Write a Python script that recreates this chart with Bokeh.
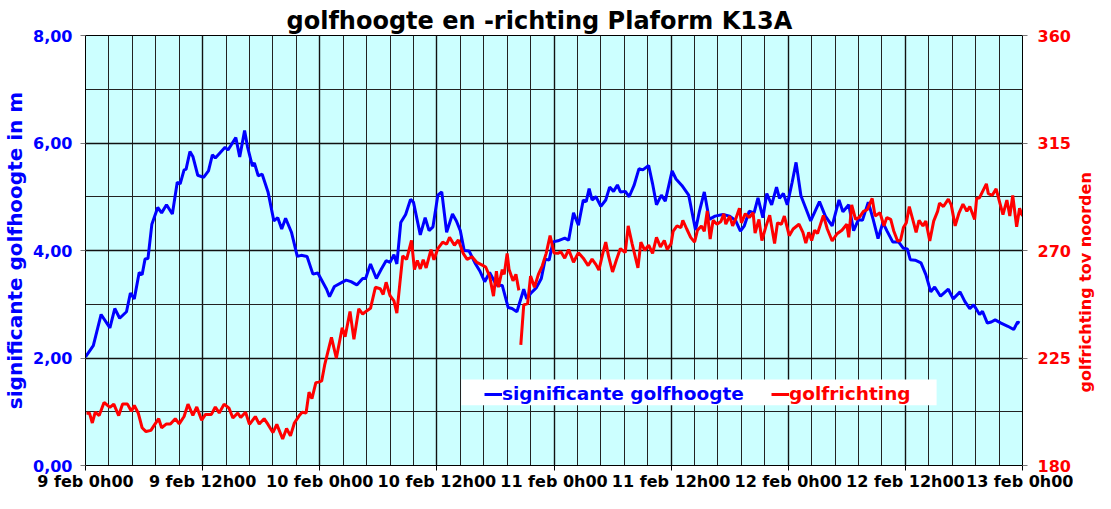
import math
from bokeh.plotting import figure
from bokeh.layouts import row
from bokeh.models import (Range1d, LinearAxis, FixedTicker, Legend, LegendItem,
                          BoxAnnotation, Label)
from bokeh.embed import file_html
from bokeh.resources import INLINE

# ---------------- data (hours since 9 feb 0h00) ----------------
blue_t = [0.0, 0.8, 1.6, 2.5, 3.0, 3.5, 4.2, 4.6, 5.0, 5.5, 5.8, 6.1, 6.4, 6.8, 7.4, 7.8,
          8.3, 8.9, 9.4, 9.7, 10.1, 10.3, 10.7, 11.0, 11.5, 12.1, 12.6, 13.0, 13.3, 13.7,
          14.3, 14.6, 15.4, 15.8, 16.3, 16.6, 17.1, 17.3, 17.7, 18.1, 18.7, 19.3, 19.7,
          20.1, 20.5, 21.1, 21.7, 22.1, 22.7, 23.3, 23.8, 24.7, 25.0, 25.5, 26.7, 27.2,
          27.8, 28.4, 28.7, 29.2, 29.8, 30.3, 30.8, 31.2, 31.6, 31.9, 32.3, 32.8, 33.3,
          33.6, 34.3, 34.8, 35.2, 35.6, 36.1, 36.5, 37.0, 37.6, 38.0, 38.4, 38.8, 39.3,
          39.9, 40.4, 40.9, 41.4, 42.1, 42.7, 43.3, 43.7, 44.2, 44.9, 45.2, 45.6, 46.2,
          46.7, 47.1, 47.5, 47.9, 48.4, 49.1, 49.5, 50.0, 50.5, 51.0, 51.3, 51.6, 51.9,
          52.3, 52.8, 53.3, 53.7, 54.1, 54.5, 54.8, 55.3, 55.7, 56.2, 56.7, 57.1, 57.7,
          58.1, 58.5, 59.0, 59.4, 60.1, 60.5, 61.1, 61.8, 62.5, 62.9, 63.4, 63.9, 64.5,
          65.3, 66.0, 66.6, 67.1, 67.5, 68.0, 68.5, 68.9, 69.4, 69.8, 70.3, 70.8, 71.1,
          71.5, 71.9, 72.4, 72.8, 73.3, 74.3, 75.2, 75.8, 76.5, 77.2, 77.6, 78.2, 78.7,
          79.2, 79.6, 80.2, 80.7, 81.2, 81.7, 82.1, 82.7, 83.3, 83.8, 84.2, 84.5, 85.0,
          85.6, 86.1, 86.6, 87.0, 87.6, 88.4, 88.9, 89.6, 90.1, 90.6, 91.0, 91.6, 91.9,
          92.4, 92.8, 93.2, 93.8, 94.5, 95.1, 95.5, 95.7]
blue_h = [2.02, 2.23, 2.81, 2.56, 2.92, 2.74, 2.86, 3.21, 3.10, 3.59, 3.55, 3.84, 3.85, 4.49,
          4.80, 4.70, 4.85, 4.68, 5.27, 5.24, 5.50, 5.51, 5.84, 5.75, 5.40, 5.36, 5.48, 5.78,
          5.72, 5.80, 5.92, 5.87, 6.10, 5.74, 6.23, 5.93, 5.57, 5.63, 5.39, 5.42, 5.09, 4.55,
          4.61, 4.40, 4.60, 4.34, 3.89, 3.91, 3.89, 3.56, 3.58, 3.28, 3.14, 3.33, 3.45, 3.42,
          3.36, 3.48, 3.48, 3.75, 3.48, 3.65, 3.81, 3.78, 3.92, 3.75, 4.52, 4.67, 4.95, 4.90,
          4.29, 4.61, 4.37, 4.44, 5.03, 5.09, 4.34, 4.68, 4.55, 4.37, 4.00, 3.99, 3.77, 3.62,
          3.42, 3.59, 3.36, 3.35, 2.94, 2.92, 2.86, 3.28, 3.10, 3.20, 3.31, 3.48, 3.84, 3.82,
          4.16, 4.18, 4.23, 4.19, 4.70, 4.47, 4.94, 4.91, 5.15, 4.94, 5.00, 4.82, 4.94, 5.18,
          5.10, 5.22, 5.09, 5.10, 5.00, 5.21, 5.52, 5.50, 5.58, 5.24, 4.85, 5.03, 4.92, 5.48,
          5.33, 5.21, 5.03, 4.38, 4.73, 5.09, 4.58, 4.64, 4.67, 4.64, 4.56, 4.36, 4.46, 4.73,
          4.70, 4.98, 4.61, 5.06, 4.85, 5.18, 4.97, 5.06, 4.85, 5.27, 5.64, 5.02, 4.55, 4.91,
          4.64, 4.46, 4.94, 4.72, 4.85, 4.37, 4.58, 4.56, 4.90, 4.58, 4.22, 4.52, 4.37, 4.16,
          4.16, 4.04, 4.03, 3.83, 3.82, 3.77, 3.55, 3.23, 3.32, 3.15, 3.28, 3.10, 3.23, 3.05,
          2.92, 2.99, 2.81, 2.87, 2.65, 2.67, 2.71, 2.65, 2.59, 2.53, 2.67, 2.65]

NAN = float("nan")
red_t = [0.1, 0.4, 0.7, 1.0, 1.4, 1.9, 2.5, 2.9, 3.4, 3.8, 4.3, 4.7, 5.0, 5.4, 5.8, 6.2, 6.7,
         7.1, 7.5, 7.8, 8.3, 8.7, 9.2, 9.6, 10.1, 10.5, 11.0, 11.4, 11.9, 12.3, 12.9, 13.3,
         13.7, 14.2, 14.7, 15.1, 15.6, 15.9, 16.4, 16.8, 17.4, 17.8, 18.3, 18.7, 19.2, 19.6,
         20.2, 20.6, 21.0, 21.4, 21.9, 22.2, 22.6, 22.9, 23.2, 23.6, 23.9, 24.2, 24.5, 24.8,
         25.2, 25.7, 26.3, 26.6, 27.1, 27.5, 28.0, 28.4, 28.8, 29.2, 29.7, 30.2, 30.5, 30.8,
         31.2, 31.6, 31.9, 32.2, 32.5, 32.9, 33.4, 33.7, 34.0, 34.3, 34.6, 34.9, 35.4, 35.7,
         36.1, 36.6, 37.0, 37.3, 37.8, 38.2, 38.7, 39.1, 39.6, 40.1, 40.6, 41.0, 41.4, 41.8,
         42.1, 42.3, 42.7, 42.9, 43.2, 43.4, 43.8, 44.1, 44.4, 44.5, 44.6, 44.9, 45.3, 45.6,
         46.0, 46.4, 46.8, 47.2, 47.6, 48.0, 48.4, 48.7, 49.1, 49.5, 50.0, 50.5, 51.0, 51.5,
         51.9, 52.3, 52.6, 53.0, 53.3, 53.6, 54.0, 54.4, 54.8, 55.3, 55.6, 56.0, 56.6, 56.9,
         57.3, 57.7, 58.1, 58.5, 58.9, 59.3, 59.6, 60.0, 60.2, 60.6, 61.0, 61.2, 61.6, 62.0,
         62.4, 62.7, 63.1, 63.4, 63.7, 64.0, 64.3, 64.7, 65.1, 65.4, 65.6, 66.0, 66.3, 66.6,
         67.0, 67.2, 67.6, 68.0, 68.4, 68.6, 69.0, 69.3, 69.7, 70.1, 70.6, 70.9, 71.3, 71.6,
         72.1, 72.5, 73.1, 73.5, 73.8, 74.1, 74.4, 74.7, 75.0, 75.6, 76.0, 76.5, 77.0, 77.5,
         78.0, 78.2, 78.5, 78.9, 79.3, 79.7, 80.1, 80.6, 80.9, 81.4, 81.8, 82.1, 82.5, 82.8,
         83.2, 83.5, 83.8, 84.1, 84.4, 84.8, 85.1, 85.4, 85.8, 86.1, 86.5, 86.9, 87.3, 87.5,
         87.9, 88.4, 88.7, 89.1, 89.5, 89.9, 90.3, 90.6, 91.1, 91.3, 91.6, 92.3, 92.5, 92.9,
         93.3, 93.6, 94.0, 94.4, 94.7, 95.0, 95.4, 95.7, 96.0]
red_dir = [201.9, 202.0, 197.8, 202.3, 200.9, 206.4, 204.3, 205.7, 200.9, 205.7, 205.7, 202.7,
           205.1, 202.0, 195.8, 194.2, 194.7, 197.2, 199.6, 195.8, 197.4, 197.4, 199.6, 197.4,
           200.5, 205.7, 201.0, 204.5, 199.0, 201.4, 201.4, 204.5, 202.0, 205.7, 204.0, 199.9,
           202.0, 200.1, 202.3, 197.2, 200.5, 197.4, 199.6, 197.2, 193.8, 197.2, 191.1, 195.5,
           192.4, 197.8, 200.9, 202.3, 202.0, 210.7, 208.0, 214.7, 214.9, 215.4, 222.0, 227.0,
           233.6, 224.9, 237.7, 233.9, 244.5, 232.8, 245.6, 243.4, 244.7, 245.8, 254.6, 254.0,
           251.6, 256.7, 251.1, 248.9, 243.8, 255.9, 267.7, 266.3, 274.2, 262.0, 265.8, 262.3,
           266.1, 262.7, 270.4, 266.1, 270.8, 273.5, 272.6, 275.5, 272.2, 274.4, 268.8, 266.3,
           267.4, 265.0, 264.0, 263.1, 259.3, 250.9, 261.3, 254.6, 262.0, 260.0, 268.8, 262.0,
           257.3, 260.0, 253.3, NAN, 230.5, 247.2, 247.8, 259.3, 254.6, 260.0, 263.6, 268.8,
           276.2, 269.0, 268.8, 269.5, 266.8, 270.4, 265.1, 269.1, 266.8, 263.7, 266.4, 264.1,
           261.8, 268.8, 273.5, 267.4, 261.0, 266.1, 270.8, 269.1, 280.3, 272.9, 262.7, 273.5,
           270.1, 272.2, 268.8, 275.5, 271.5, 274.2, 270.4, 272.9, 278.0, 280.3, 279.6, 282.6,
           279.0, 275.5, 273.5, 278.5, 280.3, 278.0, 286.6, 274.8, 282.6, 281.0, 282.1, 285.4,
           281.0, 284.4, 280.3, 283.0, 287.7, 281.6, 285.4, 283.8, 285.8, 277.3, 283.0, 274.2,
           279.9, 284.8, 272.9, 281.6, 281.0, 284.4, 276.2, 279.0, 281.0, 277.6, 273.1, 277.6,
           274.2, 278.5, 277.1, 284.7, 279.0, 274.0, 277.0, 278.5, 281.0, 275.5, 289.1, 283.0,
           284.0, 286.4, 287.1, 291.8, 284.4, 285.8, 280.3, 283.8, 283.0, 278.3, 274.0, 274.2,
           279.6, 281.6, 288.4, 282.3, 277.6, 282.6, 280.3, 282.3, 274.0, 282.3, 286.4, 289.8,
           288.4, 291.5, 289.1, 280.3, 285.8, 289.4, 286.4, 288.4, 283.0, 291.8, 292.1, 297.9,
           293.8, 293.1, 295.8, 291.1, 285.0, 291.1, 284.4, 293.0, 279.9, 287.7, 284.4]

x_ticks = [0, 12, 24, 36, 48, 60, 72, 84, 96]
x_tick_labels = ["9 feb 0h00", "9 feb 12h00", "10 feb 0h00", "10 feb 12h00", "11 feb 0h00",
                 "11 feb 12h00", "12 feb 0h00", "12 feb 12h00", "13 feb 0h00"]
x_minor = [round(i * 2.4, 1) for i in range(41)]
left_ticks = [0, 2, 4, 6, 8]
left_tick_labels = ["0,00", "2,00", "4,00", "6,00", "8,00"]
left_minor = [0, 1, 2, 3, 4, 5, 6, 7, 8]
right_ticks = [180, 225, 270, 315, 360]

title_text = "golfhoogte en -richting Plaform K13A"
left_label = "significante golfhoogte in m"
right_label = "golfrichting tov noorden"
series1 = "significante golfhoogte"
series2 = "golfrichting"

BLUE = "#0000FF"
RED = "#FF0000"
FONT = "DejaVu Sans"

# ---------------- main figure ----------------
p = figure(width=1073, height=493, output_backend="svg", toolbar_location=None,
           x_range=Range1d(0, 96), y_range=Range1d(0, 8),
           min_border_left=84, min_border_right=51, min_border_top=35, min_border_bottom=0)
p.background_fill_color = "#CCFFFF"
p.border_fill_color = "white"
p.outline_line_color = "black"
p.outline_line_width = 1

p.title.text = title_text
p.title.text_font = FONT
p.title.text_font_size = "24px"
p.title.text_font_style = "bold"
p.title.text_color = "black"
p.title.align = "left"
p.title.offset = 201
p.title.standoff = 2

p.extra_y_ranges = {"dir": Range1d(180, 360)}

# x axis
xt = FixedTicker(ticks=x_ticks, minor_ticks=x_minor)
p.xaxis.ticker = xt
p.xaxis.major_label_overrides = {t: l for t, l in zip(x_ticks, x_tick_labels)}
p.xaxis.major_label_text_font = FONT
p.xaxis.major_label_text_font_size = "16px"
p.xaxis.major_label_text_font_style = "bold"
p.xaxis.major_label_text_color = "black"
p.xaxis.major_tick_out = 5
p.xaxis.major_tick_in = 0
p.xaxis.minor_tick_line_color = None
p.xaxis.major_label_standoff = 1
p.xaxis.axis_label_standoff = 0
p.xaxis.axis_line_color = "black"

# left axis
yt = FixedTicker(ticks=left_ticks, minor_ticks=left_minor)
p.yaxis.ticker = yt
p.yaxis.major_label_overrides = {t: l for t, l in zip(left_ticks, left_tick_labels)}
p.yaxis.major_label_text_font = FONT
p.yaxis.major_label_text_font_size = "16px"
p.yaxis.major_label_text_font_style = "bold"
p.yaxis.major_label_text_color = BLUE
p.yaxis.major_tick_out = 5
p.yaxis.major_tick_in = 0
p.yaxis.major_tick_line_color = "#777777"
p.yaxis.minor_tick_line_color = None
p.yaxis.major_label_standoff = 8
p.yaxis.axis_label = left_label
p.yaxis.axis_label_text_font = FONT
p.yaxis.axis_label_text_font_size = "20px"
p.yaxis.axis_label_text_font_style = "bold"
p.yaxis.axis_label_text_color = BLUE
p.yaxis.axis_label_standoff = 3
p.yaxis.axis_line_color = "black"

# right axis
ra = LinearAxis(y_range_name="dir", ticker=FixedTicker(ticks=right_ticks))
ra.major_label_text_font = FONT
ra.major_label_text_font_size = "16px"
ra.major_label_text_font_style = "bold"
ra.major_label_text_color = RED
ra.major_tick_out = 5
ra.major_tick_in = 0
ra.major_tick_line_color = "#777777"
ra.minor_tick_line_color = None
ra.major_label_standoff = 10
ra.axis_line_color = "black"
p.add_layout(ra, "right")

# grids
p.xgrid.grid_line_color = "#111111"
p.xgrid.grid_line_width = 1.4
p.xgrid.minor_grid_line_color = "#222222"
p.xgrid.minor_grid_line_width = 1
p.ygrid.grid_line_color = "#111111"
p.ygrid.grid_line_width = 1.4
p.ygrid.minor_grid_line_color = "#222222"
p.ygrid.minor_grid_line_width = 1

# series
r_blue = p.line(blue_t, blue_h, line_color=BLUE, line_width=3)
r_red = p.line(red_t, red_dir, line_color=RED, line_width=3, y_range_name="dir")

# legend
box = BoxAnnotation(left=38.5, right=87.2, bottom=1.12, top=1.60,
                    fill_color="white", fill_alpha=1.0, line_color=None)
p.add_layout(box)

for item_label, rend, col, loc in [(series1, r_blue, BLUE, (399, 61)),
                                   (series2, r_red, RED, (686, 61))]:
    lg = Legend(items=[LegendItem(label=item_label, renderers=[rend])], location=loc)
    lg.background_fill_alpha = 0
    lg.border_line_color = None
    lg.label_text_font = FONT
    lg.label_text_font_size = "18.5px"
    lg.label_text_font_style = "bold"
    lg.label_text_color = col
    lg.glyph_width = 18
    lg.label_standoff = 0
    lg.padding = 2
    lg.margin = 0
    p.add_layout(lg)

# ---------------- narrow strip holding the right-hand axis title ----------------
side = figure(width=22, height=493, output_backend="svg", toolbar_location=None,
              x_range=Range1d(0, 1), y_range=Range1d(0, 493),
              x_axis_type=None, y_axis_type=None, min_border=0)
side.outline_line_color = None
side.background_fill_color = "white"
side.border_fill_color = "white"
side.grid.visible = False
side.add_layout(Label(x=0.55, y=210, text=right_label, angle=math.pi / 2,
                      text_align="center", text_baseline="middle",
                      text_font=FONT, text_font_size="16px", text_font_style="bold",
                      text_color=RED))

layout = row(p, side, spacing=0)
open("out.html", "w").write(file_html(layout, INLINE))
